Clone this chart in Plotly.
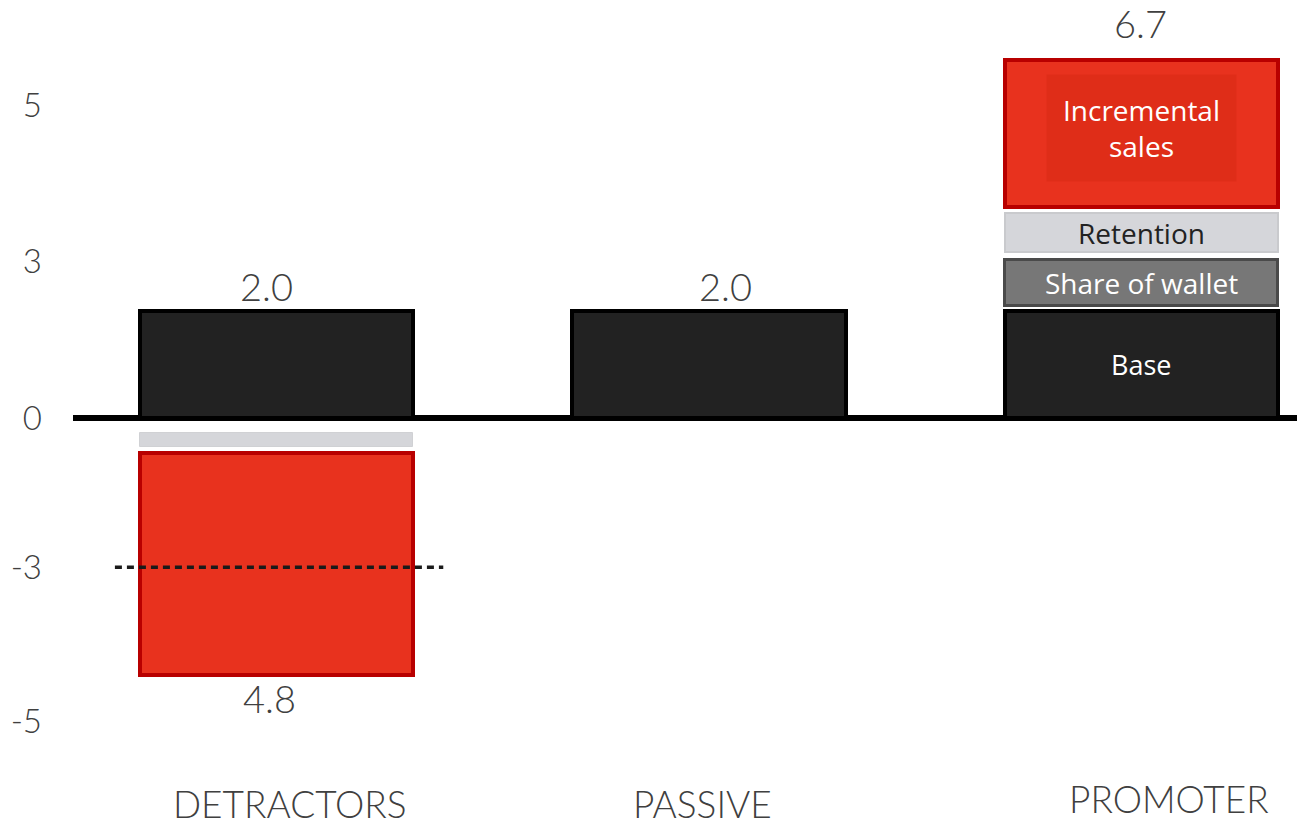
import plotly.graph_objects as go

# Categories and their positions on the x axis
categories = ["DETRACTORS", "PASSIVE", "PROMOTER"]
cat_pos = [0, 1, 2]

# Base revenue per customer group
base_hi = [2.0, 2.0, 2.0]

# Promoter uplift segments (bottom / top of each block)
promoter_labels = ["Share of wallet", "Retention", "Incremental<br>sales"]
promoter_lo = [2.1, 3.1, 3.95]
promoter_hi = [2.95, 3.83, 6.7]

# Detractor losses below zero (bottom / top of each block)
detractor_lo = [-0.54, -4.8]
detractor_hi = [-0.28, -0.65]

# Value labels
total_labels = ["2.0", "2.0", "6.7"]
total_values = [2.0, 2.0, 6.7]
loss_label = "4.8"
loss_value = -4.8

# Y axis labels and where they sit on the scale
y_tick_text = ["5", "3", "0", "-3", "-5"]
y_tick_pos = [5.85, 2.92, 0.0, -2.79, -5.68]

RED = "#E8321E"
RED_EDGE = "#B80000"
BLACK = "#222222"
DARK_GREY = "#777777"
LIGHT_GREY = "#D5D6DA"
TXT = "#404040"
BAR_W = 0.632
LIGHT_FONT = dict(family="Lato", color=TXT, weight=300)

fig = go.Figure()


def block(x, lo, hi, fill, edge, edge_w):
    fig.add_trace(go.Bar(
        x=[x], y=[hi - lo], base=[lo], width=BAR_W,
        marker=dict(color=fill, line=dict(color=edge, width=edge_w)),
        hoverinfo="skip", showlegend=False,
    ))


# Base bars
for x, h in zip(cat_pos, base_hi):
    block(x, 0, h, BLACK, "#000000", 4)

# Promoter stack
promoter_styles = [
    (DARK_GREY, "#4a4a4a", 3),
    (LIGHT_GREY, "#c9cacd", 2),
    (RED, RED_EDGE, 4),
]
for lo, hi, (f, e, w) in zip(promoter_lo, promoter_hi, promoter_styles):
    block(cat_pos[2], lo, hi, f, e, w)

# Detractor losses
detractor_styles = [
    (LIGHT_GREY, "#d0d1d4", 1),
    (RED, RED_EDGE, 4),
]
for lo, hi, (f, e, w) in zip(detractor_lo, detractor_hi, detractor_styles):
    block(cat_pos[0], lo, hi, f, e, w)

# Dashed reference line through the detractor loss at -3
fig.add_trace(go.Scatter(
    x=[cat_pos[0] - 0.375, cat_pos[0] + 0.385],
    y=[y_tick_pos[3], y_tick_pos[3]],
    mode="lines",
    line=dict(color="#1a1a1a", width=3.5, dash="7px,5px"),
    hoverinfo="skip", showlegend=False,
))

annotations = []

# Totals above bars
total_dx = [-10, 17, -1]
total_dy = [0, 0, 12]
for x, t, v, dx, dy in zip(cat_pos, total_labels, total_values, total_dx, total_dy):
    annotations.append(dict(
        x=x, y=v, text=t, showarrow=False, yanchor="bottom",
        xshift=dx, yshift=dy,
        font=dict(LIGHT_FONT, size=38),
    ))

# Loss label under the detractor bar
annotations.append(dict(
    x=cat_pos[0], y=loss_value, text=loss_label, showarrow=False,
    yanchor="top", yshift=2, xshift=-7,
    font=dict(LIGHT_FONT, size=38),
))

# Segment labels inside the promoter stack
seg_color = ["white", "#222222", "white"]
for i, (lo, hi) in enumerate(zip(promoter_lo, promoter_hi)):
    ann = dict(
        x=cat_pos[2], y=(lo + hi) / 2, text=promoter_labels[i],
        showarrow=False, yshift=5 if i == 2 else 0,
        font=dict(family="Open Sans", size=28, color=seg_color[i]),
    )
    if i == 2:
        ann.update(bgcolor="#DF2D18", borderpad=16)
    annotations.append(ann)

annotations.append(dict(
    x=cat_pos[2], y=base_hi[2] / 2, text="Base", showarrow=False,
    font=dict(family="Open Sans", size=27, color="white"),
))

# Category names along the bottom
cat_shift = [13, -6, 28]
cat_yshift = [0, 0, 5]
for x, c, dx, dy in zip(cat_pos, categories, cat_shift, cat_yshift):
    annotations.append(dict(
        x=x, y=0, yref="paper", text=c, showarrow=False,
        yanchor="bottom", xshift=dx, yshift=dy,
        font=dict(LIGHT_FONT, size=37),
    ))

fig.update_layout(
    width=1297, height=828,
    margin=dict(l=73, r=0, t=0, b=0),
    paper_bgcolor="white", plot_bgcolor="white",
    barmode="overlay", bargap=0,
    annotations=annotations,
    xaxis=dict(range=[-0.472, 2.361], showgrid=False, zeroline=False,
               showticklabels=False, fixedrange=True),
    yaxis=dict(range=[-7.664, 7.813], showgrid=False,
               zeroline=True, zerolinecolor="#000000", zerolinewidth=6,
               tickvals=y_tick_pos, ticktext=y_tick_text,
               ticks="", ticklabelstandoff=30,
               tickfont=dict(LIGHT_FONT, size=33),
               fixedrange=True),
)

fig.write_html("out.html")
